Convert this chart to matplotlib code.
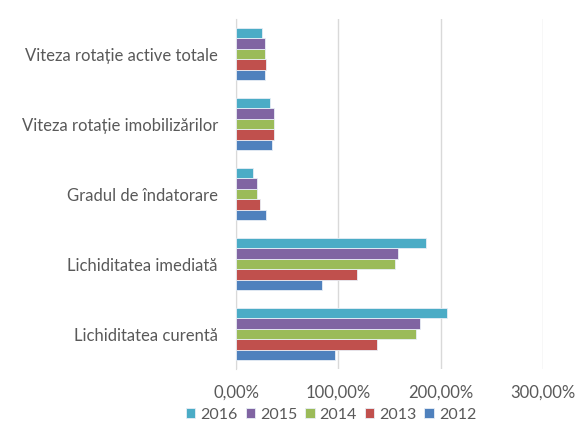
import numpy as np
import matplotlib.pyplot as plt
from matplotlib.ticker import FuncFormatter

categories = ["Lichiditatea curentă", "Lichiditatea imediată", "Gradul de îndatorare",
              "Viteza rotație imobilizărilor", "Viteza rotație active totale"]
years = ["2012", "2013", "2014", "2015", "2016"]
v2012 = [97, 84.5, 29, 35.5, 28]
v2013 = [138, 118, 23, 37, 29]
v2014 = [176, 155, 20.5, 37, 28]
v2015 = [179.5, 158, 20.5, 37, 28]
v2016 = [206, 186, 16.5, 33, 25.7]
series = [v2012, v2013, v2014, v2015, v2016]
colors = ["#4F81BD", "#C0504D", "#9BBB59", "#8064A2", "#4BACC6"]

plt.rcParams['font.family'] = ['Lato', 'DejaVu Sans']
txt = "#595959"

fig = plt.figure(figsize=(5.8, 4.23), dpi=100)
ax = fig.add_axes([236 / 580, 1 - 369 / 423, (543 - 236) / 580, 350 / 423])

y = np.arange(len(categories))
h = 0.15
for i, (vals, c) in enumerate(zip(series, colors)):
    ax.barh(y + (i - 2) * h, vals, height=h, color=c, edgecolor="#e8eef6",
            linewidth=0.6, label=years[i], zorder=3)

ax.set_xlim(0, 300)
ax.set_ylim(-0.5, len(categories) - 0.5)
ax.set_xticks([0, 100, 200, 300])
ax.xaxis.set_major_formatter(FuncFormatter(lambda v, p: f"{v:.2f}".replace(".", ",") + "%"))
ax.set_yticks(y)
ax.set_yticklabels(categories)
ax.grid(axis="x", color="#d9d9d9", linewidth=1, zorder=0)
for s in ["top", "right", "bottom"]:
    ax.spines[s].set_visible(False)
ax.spines["left"].set_color("#d9d9d9")
ax.tick_params(axis="x", length=0, pad=11, labelsize=12, labelcolor=txt)
ax.tick_params(axis="y", length=0, pad=13, labelsize=12, labelcolor=txt)

handles, labels = ax.get_legend_handles_labels()
fig.legend(handles[::-1], labels[::-1], loc="center", bbox_to_anchor=(331 / 580, 1 - 415 / 423),
           ncol=5, frameon=False, fontsize=11.5, labelcolor=txt, handlelength=0.6,
           handleheight=0.6, handletextpad=0.3, columnspacing=0.5, borderpad=0)

fig.savefig("out.png", dpi=100)
